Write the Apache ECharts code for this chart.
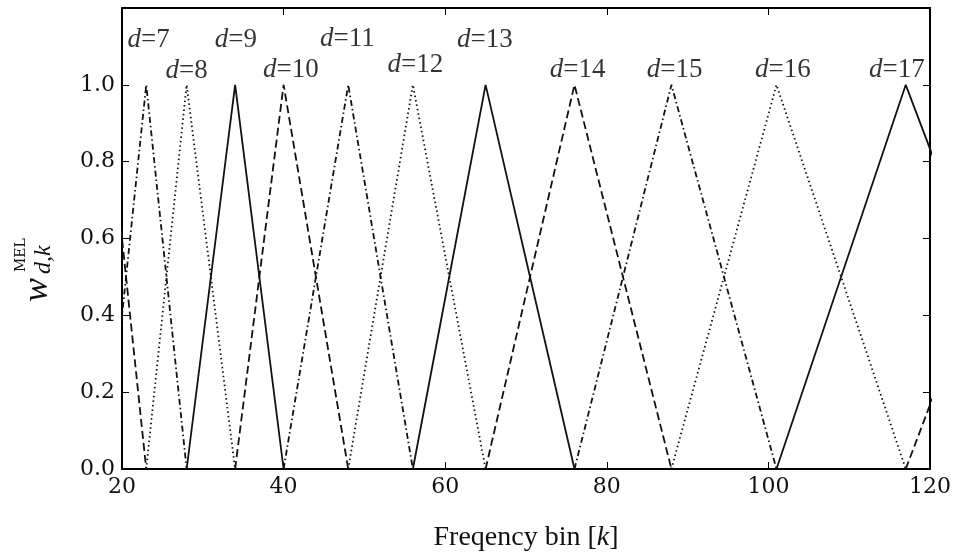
<!DOCTYPE html>
<html><head><meta charset="utf-8">
<script src="https://cdn.jsdelivr.net/npm/echarts@6/dist/echarts.min.js"></script>
<style>html,body{margin:0;padding:0;background:#fff}#c{width:960px;height:557px}</style>
</head><body><div id="c"></div>
<script>
// filter index d and its centre frequency bin (peak)
const filterIds = [6, 7, 8, 9, 10, 11, 12, 13, 14, 15, 16, 17, 18];
const centers   = [18, 23, 28, 34, 40, 48, 56, 65, 76, 88, 101, 117, 135];
// annotation labels "d=N" and where they sit (data coordinates)
const labelIds = [7, 8, 9, 10, 11, 12, 13, 14, 15, 16, 17];
const labelX   = [23.3, 28.0, 34.1, 40.9, 47.9, 56.3, 64.9, 76.4, 88.4, 101.8, 115.9];
const labelY   = [1.118, 1.035, 1.118, 1.038, 1.12, 1.053, 1.116, 1.04, 1.04, 1.04, 1.04];
// tick labels
const xTickLabels = ['20', '40', '60', '80', '100', '120'];
const yTickLabels = ['0.0', '0.2', '0.4', '0.6', '0.8', '1.0', ''];

const INK = '#000';
function dashFor(d) {
  const m = d % 4;
  if (m === 1) return 'solid';
  if (m === 2) return [8, 4];
  if (m === 3) return [6, 3, 1.5, 3];
  return [1.5, 3];
}

const series = filterIds.map((d, i) => {
  const pts = [];
  if (i > 0) pts.push([centers[i - 1], 0]);
  pts.push([centers[i], 1]);
  if (i < centers.length - 1) pts.push([centers[i + 1], 0]);
  return {
    type: 'line', name: 'd=' + d, data: pts, symbol: 'none', clip: true,
    silent: true, animation: false,
    lineStyle: { color: '#111', width: 1.8, type: dashFor(d) }
  };
});

series.push({
  type: 'scatter', symbolSize: 0, silent: true, animation: false, clip: false,
  data: labelIds.map((d, i) => [labelX[i], labelY[i]]),
  label: {
    show: true, position: 'inside',
    formatter: p => '{i|d}{n|=' + labelIds[p.dataIndex] + '}',
    rich: {
      i: { fontFamily: 'Liberation Serif', fontStyle: 'italic', fontSize: 27, color: INK },
      n: { fontFamily: 'Liberation Serif', fontSize: 27, color: INK }
    }
  }
});

const axisLine = { show: true, onZero: false, lineStyle: { color: INK, width: 2 } };
const tick = { show: true, inside: true, length: 7, lineStyle: { color: INK, width: 1 } };
const tickFont = { fontFamily: 'DejaVu Serif', fontSize: 22, color: '#111' };

const chart = echarts.init(document.getElementById('c'), null, { renderer: 'canvas' });
chart.setOption({
  animation: false,
  backgroundColor: '#fff',
  grid: { left: 122, right: 30, top: 8, bottom: 71, containLabel: false },
  xAxis: [{
    type: 'value', min: 20, max: 120, interval: 20, position: 'bottom',
    axisLine, axisTick: tick, splitLine: { show: false },
    axisLabel: Object.assign({ margin: 7, formatter: v => xTickLabels[Math.round((v - 20) / 20)] }, tickFont),
    name: '{a|Freqency bin [}{b|k}{a|]}', nameLocation: 'middle', nameGap: 55,
    nameTextStyle: { rich: {
      a: { fontFamily: 'Liberation Serif', fontSize: 28, color: '#111' },
      b: { fontFamily: 'Liberation Serif', fontStyle: 'italic', fontSize: 28, color: '#111' }
    } }
  }, {
    type: 'value', min: 20, max: 120, interval: 20, position: 'top',
    axisLine, axisTick: tick, axisLabel: { show: false }, splitLine: { show: false }
  }],
  yAxis: [{
    type: 'value', min: 0, max: 1.2, interval: 0.2, position: 'left',
    axisLine, axisTick: tick, splitLine: { show: false },
    axisLabel: Object.assign({ margin: 7, formatter: v => yTickLabels[Math.round(v / 0.2)] }, tickFont)
  }, {
    type: 'value', min: 0, max: 1.2, interval: 0.2, position: 'right',
    axisLine, axisTick: tick, axisLabel: { show: false }, splitLine: { show: false }
  }],
  graphic: [{
    type: 'group', x: 38, y: 302, rotation: Math.PI / 2, silent: true,
    children: [
      { type: 'text', x: 0, y: 0, style: { text: 'w', font: 'italic 36px "Liberation Serif"', fill: '#111', align: 'left', verticalAlign: 'middle' } },
      { type: 'text', x: 30, y: -17, style: { text: 'MEL', font: '14px "DejaVu Serif"', fill: '#111', align: 'left', verticalAlign: 'middle' } },
      { type: 'text', x: 28, y: 6, style: { text: 'd,k', font: 'italic 24px "Liberation Serif"', fill: '#111', align: 'left', verticalAlign: 'middle' } }
    ]
  }],
  series
});
</script>
</body></html>
